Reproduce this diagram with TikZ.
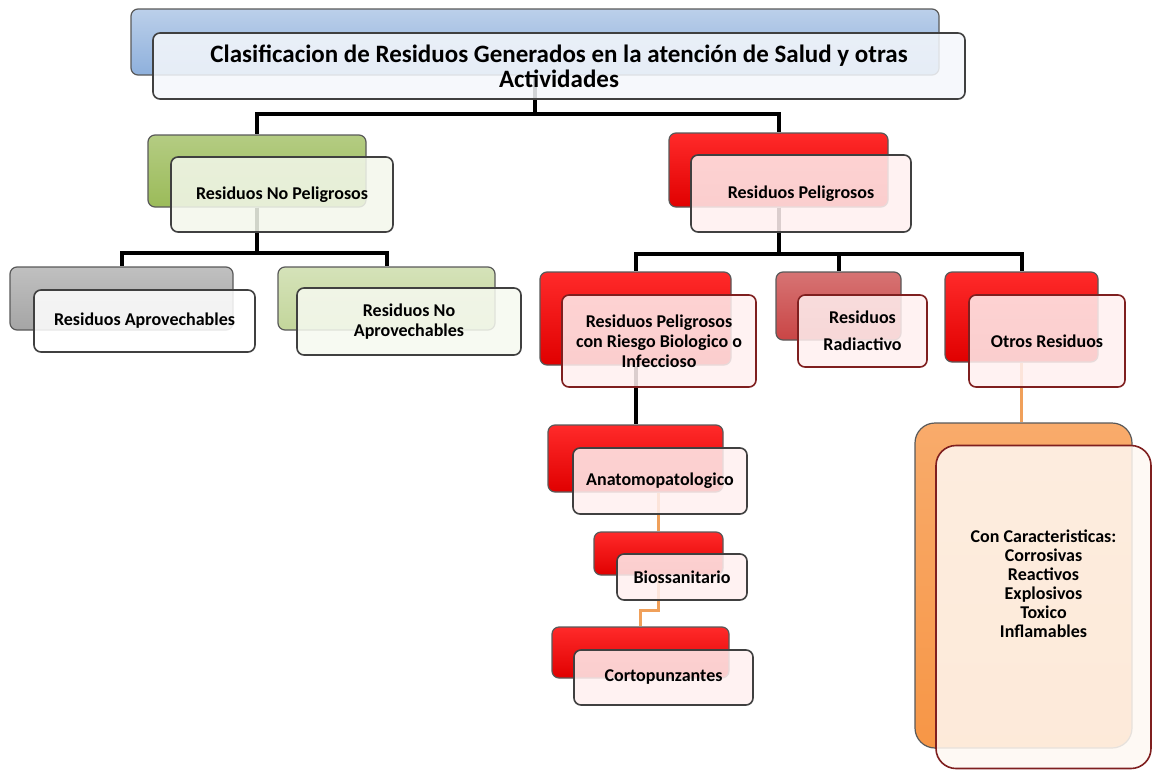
\documentclass[tikz,border=0pt]{standalone}
\usepackage{fontspec}
\setmainfont{Carlito}
\usetikzlibrary{positioning,calc}
\definecolor{ttlblue}{HTML}{8EB0DC}
\definecolor{grnback}{HTML}{9BBB59}
\definecolor{ltgrn}{HTML}{C3D69B}
\definecolor{gryback}{HTML}{A5A5A5}
\definecolor{redtop}{HTML}{FF2A2A}
\definecolor{redbot}{HTML}{E00000}
\definecolor{radred}{HTML}{C94545}
\definecolor{orgback}{HTML}{F79646}
\definecolor{drkred}{HTML}{7F1F1F}
\definecolor{frmgray}{HTML}{404040}
\definecolor{orgline}{HTML}{F0A05A}
\tikzstyle{bkbox}=[rectangle, rounded corners=7pt, draw=black!65, line width=1.2pt,
                   inner sep=0pt]
\tikzstyle{redbk}=[top color=redtop, bottom color=redbot]
\tikzstyle{frbox}=[rectangle, rounded corners=7pt, draw=frmgray, line width=1.6pt,
                   fill=white, fill opacity=0.86, text opacity=1, inner sep=2pt,
                   align=center, font=\fontsize{18}{20}\selectfont]
\tikzstyle{pline}=[-, line width=4pt, black]
\tikzstyle{oline}=[-, line width=2.8pt, orgline]

\begin{document}
\begin{tikzpicture}[x=1pt, y=-1pt]
\useasboundingbox (0,0) rectangle (1153,771);

\node (TITb) [bkbox, top color=ttlblue!60!white, bottom color=ttlblue, minimum width=808, minimum height=66] at (535,42) {};
\node (NOPb) [bkbox, top color=grnback!75!white, bottom color=grnback, minimum width=218, minimum height=72] at (257,171) {};
\node (APRb) [bkbox, top color=gryback!70!white, bottom color=gryback, minimum width=223, minimum height=63] at (121.5,298.5) {};
\node (NAPb) [bkbox, top color=ltgrn!70!white, bottom color=ltgrn, minimum width=217, minimum height=63] at (386.5,298.5) {};
\node (PELb) [bkbox, redbk, minimum width=219, minimum height=74] at (778.5,170) {};
\node (RBIb) [bkbox, redbk, minimum width=191, minimum height=93] at (635.5,318.5) {};
\node (RADb) [bkbox, top color=radred!75!white, bottom color=radred, minimum width=125, minimum height=68] at (838.5,306) {};
\node (OTRb) [bkbox, redbk, minimum width=153, minimum height=90] at (1021.5,317) {};
\node (ANAb) [bkbox, redbk, minimum width=175, minimum height=67] at (635.5,458.5) {};
\node (BIOb) [bkbox, redbk, minimum width=129, minimum height=43] at (658.5,553.5) {};
\node (CORb) [bkbox, redbk, minimum width=177, minimum height=51] at (640.5,652.5) {};
\node (CARb) [bkbox, rounded corners=20pt, top color=orgback!80!white, bottom color=orgback, minimum width=217, minimum height=325] at (1023.5,585.5) {};

 \draw[pline] (TITb.south) -- ++(0,38) -| (NOPb.north);
 \draw[pline] (TITb.south) -- ++(0,38) -| (PELb.north);
 \draw[pline] (NOPb.south) -- ++(0,45) -| (APRb.north);
 \draw[pline] (NOPb.south) -- ++(0,45) -| (NAPb.north);
 \draw[pline] (PELb.south) -- ++(0,46) -| (RBIb.north);
 \draw[pline] (PELb.south) -- ++(0,46) -| (RADb.north);
 \draw[pline] (PELb.south) -- ++(0,46) -| (OTRb.north);
 \draw[pline] (RBIb.south) -- (ANAb.north);
 \draw[oline] (ANAb.south -| BIOb.north) -- (BIOb.north);
 \draw[oline] (BIOb.south) -- ++(0,35) -| (CORb.north);
 \draw[oline] (OTRb.south) -- (OTRb.south |- CARb.north);

\node (TIT) [frbox, fill=ttlblue!10!white, minimum width=812, minimum height=66,
 font=\fontsize{25}{25}\selectfont] at (559,66) {\textbf{Clasificacion de Residuos Generados en la atención de Salud y otras}\\\textbf{Actividades}};
\node (NOP) [frbox, fill=grnback!12!white, minimum width=222, minimum height=75] at (282,194.5) {\textbf{Residuos No Peligrosos}};
\node (APR) [frbox, minimum width=221, minimum height=62] at (144.5,321) {\textbf{Residuos Aprovechables}};
\node (NAP) [frbox, fill=ltgrn!15!white, minimum width=224, minimum height=67] at (409,321.5) {\textbf{Residuos No}\\\textbf{Aprovechables}};
\node (PEL) [frbox, fill=red!6!white, minimum width=220, minimum height=77] at (801,193.5) {\textbf{Residuos Peligrosos}};
\node (RBI) [frbox, draw=drkred, fill=red!6!white, minimum width=194, minimum height=92] at (659,341) {\textbf{Residuos Peligrosos}\\\textbf{con Riesgo Biologico o}\\\textbf{Infeccioso}};
\node (RAD) [frbox, draw=drkred, fill=red!6!white, minimum width=129, minimum height=72] at (862.5,331) {\textbf{Residuos}\\[7pt]\textbf{Radiactivo}};
\node (OTR) [frbox, draw=drkred, fill=red!6!white, minimum width=156, minimum height=92] at (1047,341) {\textbf{Otros Residuos}};
\node (ANA) [frbox, fill=red!6!white, minimum width=174, minimum height=66] at (660,481) {\textbf{Anatomopatologico}};
\node (BIO) [frbox, fill=red!6!white, minimum width=130, minimum height=46] at (682,577) {\textbf{Biossanitario}};
\node (COR) [frbox, fill=red!6!white, minimum width=179, minimum height=55] at (663.5,677.5) {\textbf{Cortopunzantes}};
\node (CAR) [frbox, rounded corners=20pt, draw=drkred, fill=orgback!7!white, minimum width=215, minimum height=323] at (1043.5,607) {};
\node (CARtxt) [align=center, font=\fontsize{18}{19}\selectfont] at ([yshift=23pt]CAR.center) {\textbf{Con Caracteristicas:}\\\textbf{Corrosivas}\\\textbf{Reactivos}\\\textbf{Explosivos}\\\textbf{Toxico}\\\textbf{Inflamables}};

\end{tikzpicture}
\end{document}
